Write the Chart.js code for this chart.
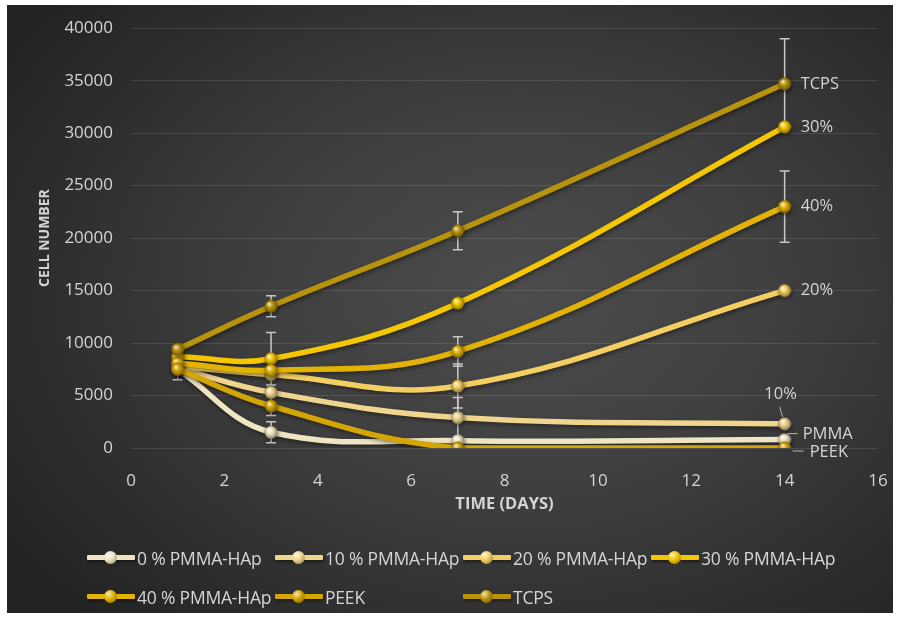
<!DOCTYPE html>
<html>
<head>
<meta charset="utf-8">
<script src="https://cdn.jsdelivr.net/npm/chart.js@4.4.1/dist/chart.umd.min.js"></script>
<style>
  html, body { margin: 0; padding: 0; background: #ffffff; }
  body { width: 899px; height: 620px; position: relative; overflow: hidden; font-family: "Open Sans", sans-serif; }
  #panel {
    position: absolute; left: 7px; top: 5px; width: 886px; height: 608px;
    background: radial-gradient(ellipse 70% 75% at 58% 48%, #4c4c4c 0%, #404040 40%, #2c2c2c 80%, #222222 100%);
  }
  #chart { position: absolute; left: 0; top: 0; }
  #legend { position: absolute; left: 0; top: 0; width: 899px; height: 620px; pointer-events: none; }
  .item { position: absolute; height: 20px; display: flex; align-items: center; color: #d6d6d6; font-size: 17.5px; letter-spacing: -0.2px; white-space: nowrap; }
  .swatch { position: relative; width: 48px; height: 20px; margin-right: 2px; }
  .swatch .ln { position: absolute; left: 0; right: 0; top: 7px; height: 5px; border-radius: 1px; box-shadow: 1px 2px 3px rgba(0,0,0,0.45); }
  .swatch .ball { position: absolute; left: 17px; top: 3px; width: 13px; height: 13px; border-radius: 50%; }
</style>
</head>
<body>
<div id="panel"></div>
<canvas id="chart" width="899" height="620"></canvas>
<div id="legend"></div>
<script>
// Culture time points (days)
const days = [1, 3, 7, 14];

// Mean cell counts per material
const pmma0  = [7500, 1500, 700, 800];
const pmma10 = [7600, 5300, 2900, 2300];
const pmma20 = [7800, 7000, 5900, 15000];
const pmma30 = [8700, 8500, 13800, 30600];
const pmma40 = [8100, 7400, 9200, 23000];
const peek   = [7500, 4000, 0, 0];
const tcps   = [9400, 13500, 20700, 34700];

// Standard deviations (0 = no bar shown)
const pmma0Err  = [0, 1000, 0, 0];
const pmma10Err = [0, 0, 1900, 0];
const pmma20Err = [0, 0, 2100, 0];
const pmma30Err = [0, 2500, 0, 0];
const pmma40Err = [1600, 0, 1400, 3400];
const peekErr   = [0, 900, 0, 0];
const tcpsErr   = [0, 1000, 1800, 4300];

// Legend names and end-of-line labels
const seriesNames = ['0 % PMMA-HAp', '10 % PMMA-HAp', '20 % PMMA-HAp', '30 % PMMA-HAp', '40 % PMMA-HAp', 'PEEK', 'TCPS'];
const endLabels   = ['PMMA', '10%', '20%', '30%', '40%', 'PEEK', 'TCPS'];

// Axis ticks
const xTicks = [0, 2, 4, 6, 8, 10, 12, 14, 16];
const yTicks = [0, 5000, 10000, 15000, 20000, 25000, 30000, 35000, 40000];

const values = [pmma0, pmma10, pmma20, pmma30, pmma40, peek, tcps];
const errors = [pmma0Err, pmma10Err, pmma20Err, pmma30Err, pmma40Err, peekErr, tcpsErr];
const colors = ['#efe5c2', '#f0d58f', '#f3cf62', '#f4c700', '#e2b204', '#d4a603', '#b8940c'];

const FONT = '"Open Sans", sans-serif';
const TEXT = '#d4d4d4';

function shade(hex, f) {
  const n = parseInt(hex.slice(1), 16);
  let r = (n >> 16) & 255, g = (n >> 8) & 255, b = n & 255;
  if (f < 0) { r *= 1 + f; g *= 1 + f; b *= 1 + f; }
  else { r += (255 - r) * f; g += (255 - g) * f; b += (255 - b) * f; }
  return `rgb(${r|0},${g|0},${b|0})`;
}

// Glossy sphere marker used as point style
function ball(color) {
  const c = document.createElement('canvas');
  c.width = 14; c.height = 14;
  const g = c.getContext('2d');
  const grad = g.createRadialGradient(5, 4.5, 0.5, 7, 7, 7);
  grad.addColorStop(0, shade(color, 0.75));
  grad.addColorStop(0.4, color);
  grad.addColorStop(1, shade(color, -0.45));
  g.fillStyle = grad;
  g.beginPath(); g.arc(7, 7, 6.5, 0, Math.PI * 2); g.fill();
  return c;
}

const datasets = values.map((vals, i) => ({
  label: seriesNames[i],
  data: days.map((d, j) => ({ x: d, y: vals[j] })),
  borderColor: colors[i],
  backgroundColor: colors[i],
  borderWidth: 5.5,
  borderCapStyle: 'round',
  tension: 0.4,
  pointStyle: ball(colors[i]),
  pointRadius: 7,
  order: values.length - i,
  fill: false
}));

// Error bars, drawn under the lines
const errorBars = {
  id: 'errorBars',
  beforeDatasetsDraw(chart) {
    const { ctx, scales: { x, y } } = chart;
    ctx.save();
    ctx.strokeStyle = '#c9c9c9';
    ctx.lineWidth = 1.5;
    errors.forEach((errs, i) => {
      errs.forEach((e, j) => {
        if (!e) return;
        const px = x.getPixelForValue(days[j]);
        const top = y.getPixelForValue(values[i][j] + e);
        const bot = y.getPixelForValue(values[i][j] - e);
        ctx.beginPath();
        ctx.moveTo(px, top); ctx.lineTo(px, bot);
        ctx.moveTo(px - 5, top); ctx.lineTo(px + 5, top);
        ctx.moveTo(px - 5, bot); ctx.lineTo(px + 5, bot);
        ctx.stroke();
      });
    });
    ctx.restore();
  }
};

// Soft drop shadow under the series
const lineShadow = {
  id: 'lineShadow',
  beforeDatasetsDraw(chart) {
    const ctx = chart.ctx;
    ctx.save();
    ctx.shadowColor = 'rgba(0,0,0,0.45)';
    ctx.shadowBlur = 4;
    ctx.shadowOffsetX = 1;
    ctx.shadowOffsetY = 2;
  },
  afterDatasetsDraw(chart) { chart.ctx.restore(); }
};

// Series names written at the last point of each line
const labelPlacement = [
  { dx: 18, dy: -5, align: 'left', leader: [[3, -6], [13, -6]] },   // PMMA
  { dx: -4, dy: -30, align: 'center', leader: [[-5, -17], [-2, -7]] }, // 10%
  { dx: 16, dy: 0, align: 'left' },
  { dx: 16, dy: 0, align: 'left' },
  { dx: 16, dy: 0, align: 'left' },
  { dx: 25, dy: 4, align: 'left', leader: [[8, 3], [19, 3]] },      // PEEK
  { dx: 16, dy: 0, align: 'left' }
];
const endLabelsPlugin = {
  id: 'endLabels',
  afterDatasetsDraw(chart) {
    const { ctx } = chart;
    ctx.save();
    ctx.font = `16.5px ${FONT}`;
    ctx.fillStyle = TEXT;
    ctx.strokeStyle = '#b5b5b5';
    ctx.lineWidth = 1;
    ctx.textBaseline = 'middle';
    chart.data.datasets.forEach((ds, i) => {
      const meta = chart.getDatasetMeta(i);
      const pt = meta.data[meta.data.length - 1];
      const p = labelPlacement[i];
      if (p.leader) {
        ctx.beginPath();
        ctx.moveTo(pt.x + p.leader[0][0], pt.y + p.leader[0][1]);
        ctx.lineTo(pt.x + p.leader[1][0], pt.y + p.leader[1][1]);
        ctx.stroke();
      }
      ctx.textAlign = p.align;
      ctx.fillText(endLabels[i], pt.x + p.dx, pt.y + p.dy);
    });
    ctx.restore();
  }
};

const chart = new Chart(document.getElementById('chart'), {
  type: 'line',
  data: { datasets },
  options: {
    responsive: false,
    animation: false,
    events: [],
    layout: { padding: { left: 0, top: 28, right: 21, bottom: 92 } },
    plugins: { legend: { display: false }, tooltip: { enabled: false } },
    scales: {
      x: {
        type: 'linear', min: 0, max: 16,
        afterBuildTicks(s) { s.ticks = xTicks.map(v => ({ value: v })); },
        afterFit(s) { s.height = 80; s.paddingRight = 0; },
        ticks: { color: TEXT, font: { family: FONT, size: 17 }, padding: 15, callback: v => String(v) },
        grid: { display: false },
        border: { display: false },
        title: { display: true, text: 'TIME (DAYS)', color: TEXT, font: { family: FONT, size: 16.5, weight: 'bold' }, padding: { bottom: 14 } }
      },
      y: {
        min: 0, max: 40000,
        afterBuildTicks(s) { s.ticks = yTicks.map(v => ({ value: v })); },
        afterFit(s) { s.width = 131; },
        ticks: { color: TEXT, font: { family: FONT, size: 17 }, padding: 18, callback: v => String(v) },
        grid: { color: 'rgba(255,255,255,0.11)', lineWidth: 1, drawTicks: false },
        border: { display: false },
        title: { display: true, text: 'CELL NUMBER', color: TEXT, font: { family: FONT, size: 14, weight: 'bold' }, padding: { top: 37 } }
      }
    }
  },
  plugins: [errorBars, lineShadow, endLabelsPlugin]
});

// Legend: two rows, four fixed columns
const legend = document.getElementById('legend');
const colX = [87, 275, 463, 651];
const rowY = [548, 587];
seriesNames.forEach((name, i) => {
  const item = document.createElement('div');
  item.className = 'item';
  item.style.left = colX[i % 4] + 'px';
  item.style.top = rowY[Math.floor(i / 4)] + 'px';
  const sw = document.createElement('div');
  sw.className = 'swatch';
  const ln = document.createElement('div');
  ln.className = 'ln';
  ln.style.background = colors[i];
  const b = document.createElement('div');
  b.className = 'ball';
  b.style.background = `radial-gradient(circle at 35% 32%, ${shade(colors[i], 0.75)} 0%, ${colors[i]} 40%, ${shade(colors[i], -0.45)} 100%)`;
  sw.appendChild(ln); sw.appendChild(b);
  const t = document.createElement('span');
  t.textContent = name;
  item.appendChild(sw); item.appendChild(t);
  legend.appendChild(item);
});
</script>
</body>
</html>
